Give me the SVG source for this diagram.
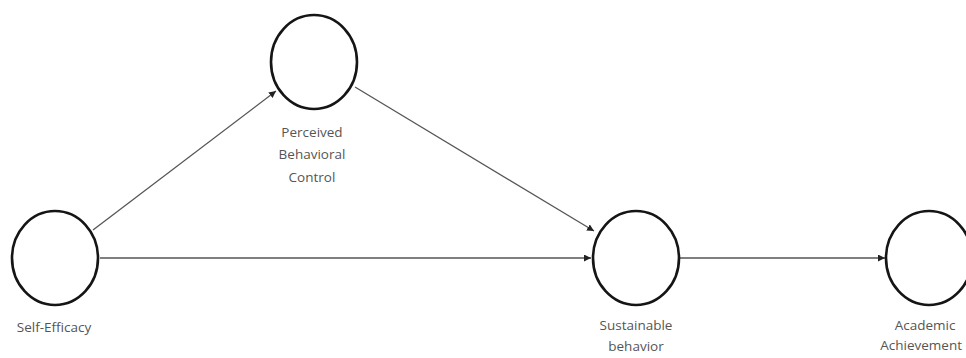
<svg xmlns="http://www.w3.org/2000/svg" width="966" height="358" viewBox="0 0 966 358">
<style>
.node{fill:#fff;stroke:#151515;stroke-width:2.6}
.lbl{font-family:"Open Sans","Liberation Sans",sans-serif;font-size:13.5px;fill:#555;text-anchor:middle}
.edge{stroke:#555;stroke-width:1.3;fill:none;marker-end:url(#ah)}
</style>
<defs>
<marker id="ah" viewBox="0 0 10 10" refX="10" refY="5" markerWidth="7" markerHeight="7" markerUnits="userSpaceOnUse" orient="auto">
<path d="M0,0 L10,5 L0,10 z" fill="#222"/>
</marker>
</defs>
<rect width="966" height="358" fill="#fff"/>
<g id="connectors">
<line class="edge" x1="93" y1="230" x2="276" y2="91"/>
<line class="edge" x1="355" y1="87" x2="594" y2="231"/>
<line class="edge" x1="100" y1="258" x2="591" y2="258"/>
<line class="edge" x1="680" y1="258" x2="885" y2="258"/>
</g>
<g id="pbc">
<ellipse class="node" cx="314" cy="62" rx="43" ry="47"/>
<text class="lbl" x="312" y="137">Perceived</text>
<text class="lbl" x="312" y="159">Behavioral</text>
<text class="lbl" x="312" y="182">Control</text>
</g>
<g id="self-efficacy">
<ellipse class="node" cx="55" cy="258" rx="43" ry="47"/>
<text class="lbl" x="54" y="332">Self-Efficacy</text>
</g>
<g id="sustainable">
<ellipse class="node" cx="636" cy="258" rx="43" ry="47"/>
<text class="lbl" x="636" y="330">Sustainable</text>
<text class="lbl" x="636" y="351">behavior</text>
</g>
<g id="academic">
<ellipse class="node" cx="929" cy="258" rx="43" ry="47"/>
<text class="lbl" x="925" y="330">Academic</text>
<text class="lbl" x="962" y="350" style="text-anchor:end">Achievement</text>
</g>
</svg>
